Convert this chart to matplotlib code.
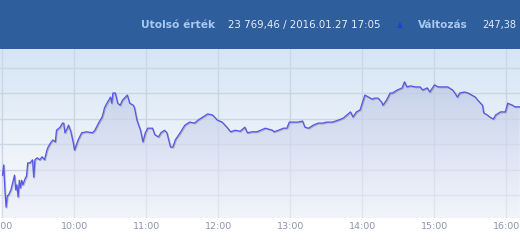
import numpy as np
import matplotlib
matplotlib.use("Agg")
import matplotlib.pyplot as plt
import matplotlib.patheffects as pe
from matplotlib.colors import LinearSegmentedColormap
from matplotlib.patches import Polygon, Rectangle

# ---- data: minutes after 09:00 and index value ----
minutes = [0, 1, 2, 3, 4, 5, 7, 9, 10, 11, 12, 13, 14, 15, 16, 17, 19, 20, 21, 23,
           25, 26, 27, 29, 31, 33, 35, 37, 38, 40, 42, 44, 45, 48, 50, 51, 52, 54, 55, 57,
           59, 60, 63, 66, 70, 75, 77, 80, 83, 84, 85, 87, 90, 91, 92, 94, 96, 98, 100, 104,
           106, 109, 110, 112, 115, 117, 119, 121, 125, 127, 130, 132, 135, 137, 140, 142, 144, 148, 152, 156,
           160, 163, 167, 171, 175, 179, 183, 187, 190, 194, 198, 202, 204, 208, 212, 215, 219, 222, 225, 226,
           230, 234, 237, 239, 242, 246, 250, 252, 255, 259, 263, 267, 270, 275, 280, 284, 287, 290, 292, 295,
           298, 300, 302, 305, 308, 310, 313, 316, 317, 320, 323, 325, 329, 333, 335, 337, 340, 344, 348, 350,
           354, 356, 360, 363, 367, 371, 375, 377, 379, 381, 385, 388, 391, 394, 396, 400, 401, 404, 406, 409,
           411, 415, 419, 421, 425, 427, 431]
values = [23539, 23559, 23510, 23476, 23498, 23500, 23510, 23529, 23539, 23510, 23520, 23496, 23529, 23514, 23529, 23520, 23533, 23537, 23563, 23563,
          23569, 23535, 23569, 23573, 23569, 23575, 23569, 23588, 23594, 23602, 23608, 23604, 23627, 23633, 23641, 23641, 23622, 23631, 23637, 23624,
          23602, 23588, 23608, 23622, 23624, 23622, 23627, 23641, 23653, 23661, 23671, 23680, 23692, 23680, 23700, 23700, 23680, 23676, 23686, 23696,
          23680, 23676, 23671, 23647, 23627, 23604, 23622, 23631, 23631, 23618, 23614, 23622, 23627, 23622, 23594, 23594, 23608, 23622, 23637, 23643,
          23641, 23647, 23653, 23659, 23657, 23647, 23643, 23633, 23624, 23627, 23625, 23633, 23622, 23624, 23624, 23627, 23631, 23629, 23627, 23624,
          23627, 23631, 23631, 23643, 23643, 23643, 23645, 23633, 23631, 23637, 23641, 23641, 23643, 23643, 23647, 23651, 23657, 23663, 23653, 23663,
          23667, 23682, 23696, 23692, 23688, 23690, 23690, 23682, 23676, 23686, 23700, 23700, 23706, 23710, 23722, 23712, 23714, 23712, 23712, 23706,
          23710, 23702, 23716, 23712, 23712, 23712, 23706, 23700, 23692, 23700, 23702, 23700, 23696, 23692, 23686, 23676, 23661, 23657, 23653, 23649,
          23657, 23663, 23663, 23680, 23676, 23673, 23673]

tick_minutes = [0, 60, 120, 180, 240, 300, 360, 420]
tick_labels = ["9:00", "10:00", "11:00", "12:00", "13:00", "14:00", "15:00", "16:00"]
grid_values = [23500, 23550, 23600, 23650, 23700, 23750]

header_label1 = "Utolsó érték"
header_value1 = "23 769,46 / 2016.01.27 17:05"
header_label2 = "Változás"
header_value2 = "247,38"

W, H = 520, 245
fig = plt.figure(figsize=(W / 100, H / 100), dpi=100)
fig.patch.set_facecolor("white")

# header band
fig.patches.append(Rectangle((0, 1 - 49 / H), 1, 49 / H, transform=fig.transFigure,
                             facecolor="#2e5e9b", edgecolor="none", zorder=0))

ax = fig.add_axes([0, (H - 218) / H, 1, 169 / H])
xmin, xmax = -2.08, 431.25
ymin, ymax = 23454.9, 23786.3
ax.set_xlim(xmin, xmax)
ax.set_ylim(ymin, ymax)

# background gradient
bg = LinearSegmentedColormap.from_list("bg", ["#fbfcfe", "#eaf1f9", "#d5e5f5"])
grad = np.linspace(0, 1, 256).reshape(-1, 1)
ax.imshow(grad, cmap=bg, aspect="auto", origin="lower",
          extent=[xmin, xmax, ymin, ymax], zorder=0)

# grid
for gv in grid_values:
    ax.axhline(gv, color="#cbd6e4", lw=1.0, zorder=1)
for tm in tick_minutes:
    ax.axvline(tm, color="#cbd6e4", lw=1.0, zorder=1)

# area fill with gradient
x = np.array(minutes, dtype=float)
y = np.array(values, dtype=float)
poly_xy = np.vstack([np.column_stack([x, y]), [[x[-1], ymin], [x[0], ymin]]])
poly = Polygon(poly_xy, closed=True, facecolor="none", edgecolor="none")
ax.add_patch(poly)
fillcm = LinearSegmentedColormap.from_list("fl", [(0.93, 0.94, 0.98, 0.6), (0.70, 0.75, 0.88, 0.8)])
im = ax.imshow(grad, cmap=fillcm, aspect="auto", origin="lower",
               extent=[xmin, xmax, ymin, ymax], zorder=2)
im.set_clip_path(poly)

# line
ax.plot(x, y, color="#5656e6", lw=0.9, zorder=3,
        path_effects=[pe.SimpleLineShadow(offset=(0.6, -0.6), shadow_color="#707070", alpha=0.45),
                      pe.Normal()])

ax.set_xticks(tick_minutes)
ax.set_xticklabels(tick_labels)
ax.set_yticks([])
ax.tick_params(axis="x", length=0, pad=3, labelsize=6.8, labelcolor="#8e93b0")
for s in ax.spines.values():
    s.set_visible(False)

# header texts
ty = 1 - 25 / H
fig.text(141 / W, ty, header_label1, color="#a9c8f2", fontsize=7.7, fontweight="bold",
         ha="left", va="center")
fig.text(228 / W, ty, header_value1, color="#e6edf8", fontsize=7.35, ha="left", va="center")
fig.text(400 / W, ty, "▲", color="#1f3fd6", fontsize=5.5, ha="center", va="center")
fig.text(418 / W, ty, header_label2, color="#a9c8f2", fontsize=7.5, fontweight="bold",
         ha="left", va="center")
fig.text(482 / W, ty, header_value2, color="#e6edf8", fontsize=7.0, ha="left", va="center")

fig.savefig("out.png", dpi=100)
